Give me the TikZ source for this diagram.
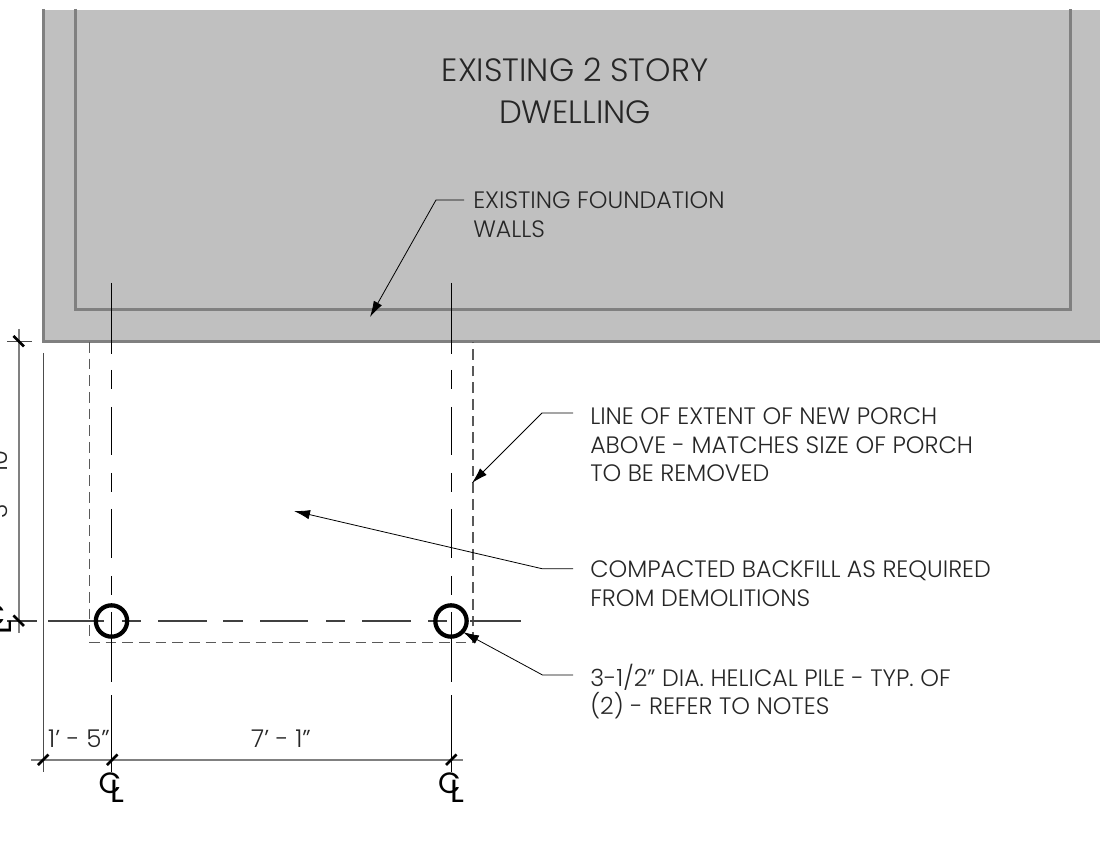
\documentclass[tikz,border=0pt]{standalone}
\usepackage{fontspec}
\setmainfont{Poppins}[UprightFont=* Light]
\newfontfamily\clfont{Poppins}
\usetikzlibrary{arrows.meta}
\definecolor{wallg}{HTML}{808080}
\definecolor{fillg}{HTML}{C0C0C0}
\tikzset{
 x=0.75pt,y=-0.75pt,
 wall/.style={draw=wallg,line width=2.25pt},
 dimext/.style={draw=black!70,line width=0.7pt},
 dimg/.style={draw=wallg,line width=1.6pt},
 slash/.style={draw=black,line width=2.1pt},
 cenv/.style={draw=black,line width=0.7pt,dash pattern=on 53.25pt off 12pt on 14.25pt off 13.5pt on 36pt off 13.5pt on 14.25pt off 12.75pt on 36.75pt off 13.5pt on 14.25pt off 12.75pt on 52.5pt off 9.75pt on 57.75pt},
 cenh/.style={draw=black!75,line width=0.8pt,dash pattern=on 22.5pt off 8.25pt on 42pt off 13.5pt on 14.25pt off 12.75pt on 36.75pt off 12pt on 15pt off 12.75pt on 36pt off 13.5pt on 14.25pt off 12.75pt on 36.75pt off 12.75pt on 14.25pt off 17.25pt on 38.25pt},
 porch/.style={draw=black!65,line width=0.85pt,dash pattern=on 8pt off 4.5pt},
 lead/.style={draw=black,line width=0.6pt,-{Latex[length=12pt,width=7pt]}},
 note/.style={font=\fontsize{17.8pt}{21.4pt}\selectfont,align=left,anchor=north west,inner sep=0pt,text=black!85},
 big/.style={font=\fontsize{24.2pt}{31pt}\selectfont,align=center,inner sep=0pt,text=black!85},
 dimtxt/.style={font=\fontsize{18.4pt}{19pt}\selectfont,inner sep=0pt,text=black!85},
 clc/.style={font=\clfont\fontsize{22pt}{22pt}\selectfont,inner sep=0pt,text=black},
 cll/.style={font=\clfont\fontsize{24pt}{24pt}\selectfont,inner sep=0pt,text=black},
 pile/.style={circle,draw=black,line width=3.2pt,minimum size=23.5pt,inner sep=0pt},
}
\begin{document}
\begin{tikzpicture}
\useasboundingbox (0,0) rectangle (1100,862);
\clip (0,0) rectangle (1100,862);
\fill[fillg] (43,10) rectangle (1100,341);
\draw[wall] (43.5,9) -- (43.5,341.5) -- (1100,341.5);
\draw[wall] (75.5,9) -- (75.5,309.5) -- (1070.5,309.5) -- (1070.5,9);
\node[big] (title) at (575,91) {EXISTING 2 STORY\\DWELLING};
\node[note] (n1) at (473,191.5) {EXISTING FOUNDATION\\WALLS};
\node[note] (n2) at (590,407.5) {LINE OF EXTENT OF NEW PORCH\\ABOVE - MATCHES SIZE OF PORCH\\TO BE REMOVED};
\node[note] (n3) at (590,560.5) {COMPACTED BACKFILL AS REQUIRED\\FROM DEMOLITIONS};
\node[note] (n4) at (590,663.5) {3-1/2" DIA. HELICAL PILE - TYP. OF\\(2) - REFER TO NOTES};
% porch
\draw[porch] (89.5,342) -- (89.5,642.5) -- (473,642.5) -- (473,342);
% centre lines
\coordinate (c1t) at (111.5,283); \coordinate (c1b) at (111.5,772);
\coordinate (c2t) at (451,283); \coordinate (c2b) at (451,772);
\coordinate (chl) at (7,621); \coordinate (chr) at (521,621);
\draw[cenv] (c1t) -- (c1b);
\draw[cenv] (c2t) -- (c2b);
\draw[cenh] (chl) -- (chr);
% piles
\node[pile] (p1) at (111.5,621) {};
\node[pile] (p2) at (451,621) {};
% dim
\draw[dimext] (43,353) -- (43,772);
\draw[dimg] (18.7,329) -- (18.7,633);
\draw[dimg] (31,760) -- (463,760);
\draw[dimext] (7,341) -- (32,341);
\draw[slash] (13.5,336) -- (24,346.5);
\draw[slash] (13.5,615.5) -- (24,626);
\draw[slash] (38,765) -- (48.5,754.5);
\draw[slash] (107,765) -- (117.5,754.5);
\draw[slash] (446,765) -- (456.5,754.5);
\node[dimtxt,rotate=90] (d1) at (-1,480) {3' - 10"};
\node[dimtxt] (d2) at (79,739) {1' - 5"};
\node[dimtxt] (d3) at (281,739) {7' - 1"};
% CL
\node[clc] (cl1) at (110,783) {C};
\node[cll] (cl1b) at (117.5,791) {L};
\node[clc] (cl2) at (449.5,783) {C};
\node[cll] (cl2b) at (457,791) {L};
\node[clc] (cl3) at (-6,615) {C};
\node[cll,rotate=90] (cl3b) at (0,628) {L};
% leaders
\coordinate (a1) at (464,200); \coordinate (k1) at (436,200); \coordinate (e1) at (370,317);
\draw[lead] (a1) -- (k1) -- (e1);
\coordinate (a2) at (573,413); \coordinate (k2) at (542,413); \coordinate (e2) at (472,483);
\draw[lead] (a2) -- (k2) -- (e2);
\coordinate (a3) at (573,568.7); \coordinate (k3) at (542,568.7); \coordinate (e3) at (294,511);
\draw[lead] (a3) -- (k3) -- (e3);
\coordinate (a4) at (573,675); \coordinate (k4) at (542.5,675); \coordinate (e4) at (463,632);
\draw[lead] (a4) -- (k4) -- (e4);
\end{tikzpicture}
\end{document}
